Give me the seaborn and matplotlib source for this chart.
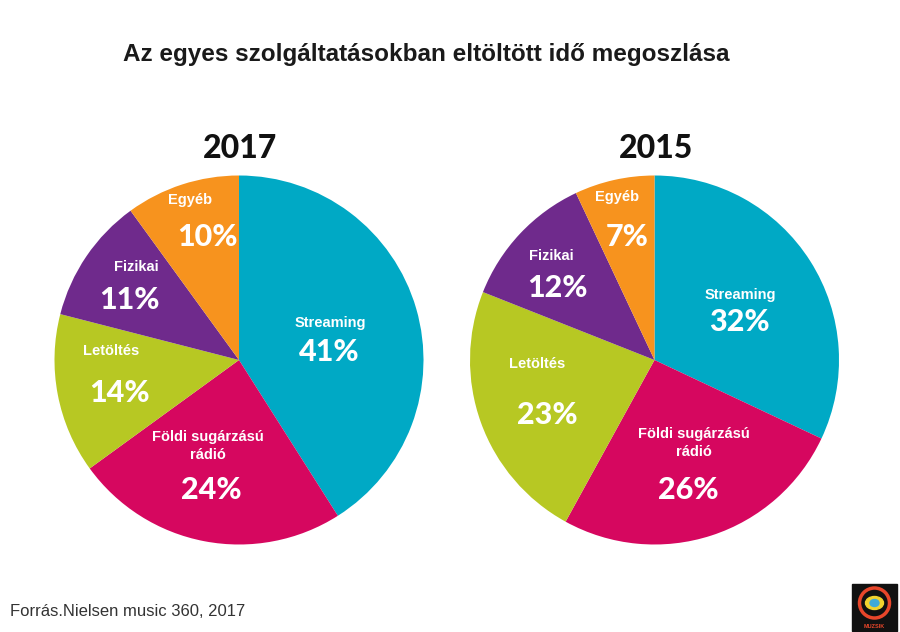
import matplotlib
matplotlib.use("Agg")
import matplotlib.pyplot as plt
import matplotlib.patches as mpatches
import seaborn as sns

# Data
categories = ["Streaming", "Földi sugárzású\nrádió", "Letöltés", "Fizikai", "Egyéb"]
years = ["2017", "2015"]
values_2017 = [41, 24, 14, 11, 10]
values_2015 = [32, 26, 23, 12, 7]
colors = sns.color_palette(["#00A9C5", "#D6075F", "#B7C823", "#6F2A8C", "#F7931E"])

title = "Az egyes szolgáltatásokban eltöltött idő megoszlása"
source = "Forrás.Nielsen music 360, 2017"

# Layout (pixels, y pointing down), label offsets relative to the pie centre
W, H = 900, 632
centers = {"2017": (239, 360), "2015": (654.5, 360)}
radius = 184.5
name_offsets = {
    "2017": [(91, -37), (-31, 86), (-128, -9), (-103, -93), (-49, -160)],
    "2015": [(86, -65), (39, 83), (-117, 4), (-103, -104), (-37, -163)],
}
pct_offsets = {
    "2017": [(90, -8), (-28, 130), (-120, 33), (-110, -60), (-32, -123)],
    "2015": [(85, -38), (34, 130), (-107, 55), (-97, -72), (-27, -123)],
}

sns.set_theme(style="white")
plt.rcParams["font.family"] = ["Liberation Sans", "DejaVu Sans"]

fig = plt.figure(figsize=(W / 100, H / 100), dpi=100)
ax = fig.add_axes([0, 0, 1, 1])

values = {"2017": values_2017, "2015": values_2015}
for year in years:
    cx, cy = centers[year]
    ax.pie(values[year], colors=colors, startangle=90, counterclock=False,
           center=(cx, H - cy), radius=radius,
           wedgeprops=dict(linewidth=0, antialiased=True), frame=True)
    ax.text(cx + 1, H - 149, year, ha="center", va="center", fontsize=23,
            fontweight="black", family=["Lato", "DejaVu Sans"], color="#111111")
    for i, cat in enumerate(categories):
        dx, dy = name_offsets[year][i]
        ax.text(cx + dx, H - (cy + dy), cat, ha="center", va="center",
                fontsize=10.5, fontweight="bold", color="white", linespacing=1.3)
        dx, dy = pct_offsets[year][i]
        ax.text(cx + dx, H - (cy + dy), f"{values[year][i]}%", ha="center",
                va="center", fontsize=22, fontweight="black",
                family=["Lato", "DejaVu Sans"], color="white")

ax.text(426, H - 55, title, ha="center", va="center", fontsize=17.5,
        fontweight="bold", color="#1a1a1a")
ax.text(10, H - 612, source, ha="left", va="center", fontsize=12,
        color="#333333")

# small logo in the corner
ax.add_patch(mpatches.Rectangle((852, H - 631), 45, 47, color="#111111"))
ax.add_patch(mpatches.Circle((874.5, H - 603), 15, fill=False,
                             edgecolor="#E8462A", linewidth=2.5))
ax.add_patch(mpatches.Ellipse((874.5, H - 603), 18, 13, color="#F2D22E"))
ax.add_patch(mpatches.Ellipse((874.5, H - 603), 9, 7, color="#3FA9D8"))
ax.text(874.5, H - 626, "MUZSIK", ha="center", va="center", fontsize=4,
        fontweight="bold", color="#E8462A")

ax.set_xlim(0, W)
ax.set_ylim(0, H)
ax.set_aspect("auto")
ax.axis("off")

fig.savefig("out.png", dpi=100)
